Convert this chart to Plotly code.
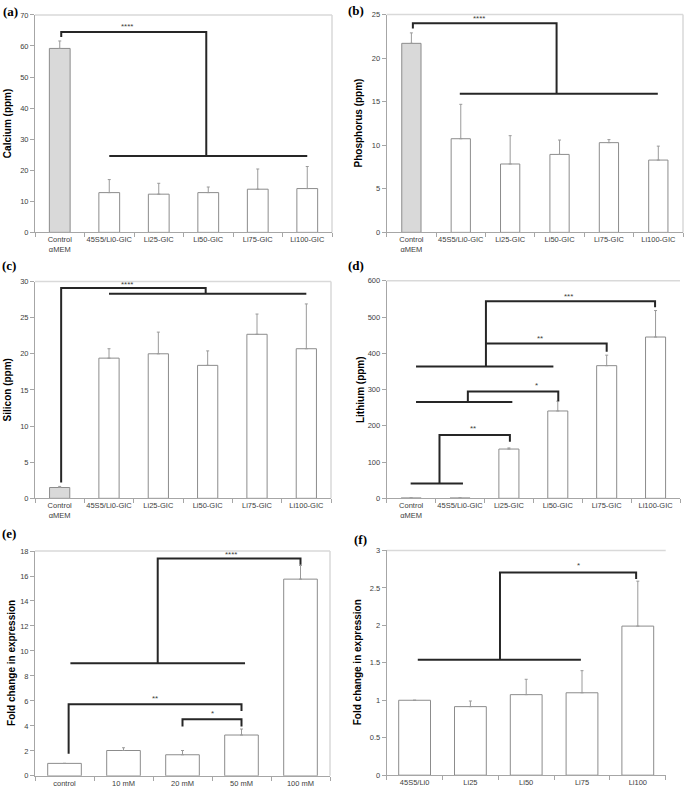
import plotly.graph_objects as go

W, H = 685, 795

# ---------------- data ----------------
cats_ppm = ["Control<br>αMEM", "45S5/Li0-GIC", "Li25-GIC", "Li50-GIC", "Li75-GIC", "Li100-GIC"]

calcium = [59.2, 12.8, 12.3, 12.8, 13.9, 14.1]
calcium_err = [2.4, 4.2, 3.5, 1.8, 6.5, 7.1]

phosphorus = [21.7, 10.75, 7.85, 8.95, 10.3, 8.3]
phosphorus_err = [1.2, 3.95, 3.25, 1.65, 0.35, 1.6]

silicon = [1.5, 19.4, 20.0, 18.4, 22.7, 20.7]
silicon_err = [0.15, 1.3, 3.0, 2.0, 2.8, 6.2]

lithium = [1.0, 1.0, 136, 241, 366, 445]
lithium_err = [0, 0, 3, 27, 29, 73]

cats_mm = ["control", "10 mM", "20 mM", "50 mM", "100 mM"]
fold_mm = [1.0, 2.03, 1.69, 3.27, 15.75]
fold_mm_err = [0, 0.22, 0.34, 0.48, 1.1]

cats_li = ["45S5/Li0", "Li25", "Li50", "Li75", "Li100"]
fold_li = [1.0, 0.915, 1.075, 1.1, 1.99]
fold_li_err = [0, 0.075, 0.205, 0.295, 0.6]

# significance brackets: polylines in (category index, value) + star labels
brk_a = [[(0.03, 62.9), (0.03, 64.5), (2.96, 64.5), (2.96, 24.6)], [(1.0, 24.6), (5.0, 24.6)]]
stars_a = [(1.36, 66.2, "****")]
brk_b = [[(0.03, 23.4), (0.03, 24.0), (2.94, 24.0), (2.94, 15.9)], [(0.98, 15.9), (4.99, 15.9)]]
stars_b = [(1.37, 24.55, "****")]
brk_c = [[(0.03, 2.2), (0.03, 29.1), (2.96, 29.1), (2.96, 28.3)], [(1.0, 28.3), (5.0, 28.3)]]
stars_c = [(1.36, 29.6, "****")]
brk_d = [
    [(-0.01, 41), (1.06, 41)],
    [(0.58, 41), (0.58, 174.5), (2.02, 174.5), (2.02, 156)],
    [(0.10, 266), (2.07, 266)],
    [(1.16, 266), (1.16, 295), (3.01, 295), (3.01, 268)],
    [(0.10, 363.6), (2.91, 363.6)],
    [(1.53, 363.6), (1.53, 543.6), (4.99, 543.6), (4.99, 527)],
    [(1.53, 427), (4.0, 427), (4.0, 404.5)],
]
stars_d = [(1.27, 193, "**"), (2.57, 311, "*"), (2.64, 441, "**"), (3.22, 558, "***")]
brk_e = [
    [(0.10, 9.02), (3.06, 9.02)],
    [(1.58, 9.02), (1.58, 17.4), (4.0, 17.4), (4.0, 16.9)],
    [(0.07, 1.77), (0.07, 5.73), (3.0, 5.73), (3.0, 5.2)],
    [(2.0, 3.96), (2.0, 4.54), (3.0, 4.54), (3.0, 3.96)],
]
stars_e = [(2.82, 17.75, "****"), (1.54, 6.2, "**"), (2.5, 5.0, "*")]
brk_f = [
    [(0.057, 1.54), (2.98, 1.54)],
    [(1.53, 1.54), (1.53, 2.705), (3.97, 2.705), (3.97, 2.62)],
]
stars_f = [(2.93, 2.80, "*")]

panels = [
    dict(label="(a)", title="Calcium (ppm)", cats=cats_ppm, vals=calcium, errs=calcium_err,
         ymax=70, dtick=10, box=(35, 332, 11, 231), bw=0.42, gray=True, brk=brk_a, stars=stars_a,
         lab=(10, 8), tx=7.5, frame="tr"),
    dict(label="(b)", title="Phosphorus (ppm)", cats=cats_ppm, vals=phosphorus, errs=phosphorus_err,
         ymax=25, dtick=5, box=(386.7, 683, 10.7, 231), bw=0.39, gray=True, brk=brk_b, stars=stars_b,
         lab=(356, 7), tx=358, frame="tr"),
    dict(label="(c)", title="Silicon (ppm)", cats=cats_ppm, vals=silicon, errs=silicon_err,
         ymax=30, dtick=5, box=(35, 331, 280.7, 500), bw=0.41, gray=True, brk=brk_c, stars=stars_c,
         lab=(9, 265), tx=7.5, frame="tr"),
    dict(label="(d)", title="Lithium (ppm)", cats=cats_ppm, vals=lithium, errs=lithium_err,
         ymax=600, dtick=100, box=(386.7, 680, 280, 500), bw=0.41, gray=False, brk=brk_d, stars=stars_d,
         lab=(356, 265), tx=360.5, frame="t"),
    dict(label="(e)", title="Fold change in expression", cats=cats_mm, vals=fold_mm, errs=fold_mm_err,
         ymax=18, dtick=2, box=(35, 330, 553.3, 780.7), bw=0.57, gray=False, brk=brk_e, stars=stars_e,
         lab=(9, 536), tx=11.5, frame="tr"),
    dict(label="(f)", title="Fold change in expression", cats=cats_li, vals=fold_li, errs=fold_li_err,
         ymax=3, dtick=0.5, box=(386.7, 665.7, 552.7, 780), bw=0.57, gray=False, brk=brk_f, stars=stars_f,
         lab=(361, 542), tx=357.5, frame="t"),
]

fig = go.Figure()
shapes, annotations = [], []
layout = {}

TICKFONT = dict(family="Liberation Sans, Arial, sans-serif", size=7.5, color="#404040")
AXIS_COL = "#a6a6a6"
FRAME_COL = "#d9d9d9"
BRK_COL = "#262626"

for i, p in enumerate(panels, start=1):
    xa = "x" if i == 1 else f"x{i}"
    ya = "y" if i == 1 else f"y{i}"
    x0, x1, y0, y1 = p["box"]
    n = len(p["cats"])
    fills = [("#d9d9d9" if (p["gray"] and k == 0) else "white") for k in range(n)]
    fig.add_trace(go.Bar(
        x=p["cats"], y=p["vals"], xaxis=xa, yaxis=ya, width=p["bw"],
        marker=dict(color=fills, line=dict(color="#8c8c8c", width=1)),
        error_y=dict(type="data", symmetric=False, array=p["errs"], arrayminus=[0] * n,
                     color="#9a9a9a", thickness=1, width=1.5),
        showlegend=False, hoverinfo="skip",
    ))
    xkey = "xaxis" if i == 1 else f"xaxis{i}"
    ykey = "yaxis" if i == 1 else f"yaxis{i}"
    layout[xkey] = dict(
        domain=[x0 / W, x1 / W], anchor=ya, type="category",
        range=[-0.5, n - 0.5], tickson="boundaries", ticks="outside", ticklen=4,
        tickangle=0, tickcolor=AXIS_COL, showline=True, linecolor=AXIS_COL, linewidth=1,
        showgrid=False, zeroline=False, tickfont=TICKFONT, fixedrange=True,
    )
    layout[ykey] = dict(
        domain=[1 - y1 / H, 1 - y0 / H], anchor=xa,
        range=[0, p["ymax"]], dtick=p["dtick"], tick0=0, ticks="outside", ticklen=4,
        tickcolor=AXIS_COL, showline=True, linecolor=AXIS_COL, linewidth=1,
        showgrid=False, zeroline=False, tickfont=TICKFONT, fixedrange=True,
    )
    # frame (top / right)
    dref_x = f"{xa} domain"
    dref_y = f"{ya} domain"
    shapes.append(dict(type="line", xref=dref_x, yref=dref_y, x0=0, x1=1, y0=1, y1=1,
                       line=dict(color=FRAME_COL, width=1.5), layer="below"))
    if "r" in p["frame"]:
        shapes.append(dict(type="line", xref=dref_x, yref=dref_y, x0=1, x1=1, y0=0, y1=1,
                           line=dict(color=FRAME_COL, width=1.5), layer="below"))
    # brackets
    for poly in p["brk"]:
        path = "M " + " L ".join(f"{px},{py}" for px, py in poly)
        shapes.append(dict(type="path", xref=xa, yref=ya, path=path,
                           line=dict(color=BRK_COL, width=2)))
    for sx, sy, st in p["stars"]:
        annotations.append(dict(x=sx, y=sy, xref=xa, yref=ya, text=st, showarrow=False,
                                font=dict(family="Liberation Sans, Arial, sans-serif", size=8, color="#404040")))
    # y-axis title
    annotations.append(dict(x=p["tx"] / W, y=1 - ((y0 + y1) / 2) / H, xref="paper", yref="paper",
                            text=f"<b>{p['title']}</b>", textangle=-90, showarrow=False,
                            xanchor="center", yanchor="middle",
                            font=dict(family="Liberation Sans, Arial, sans-serif", size=10, color="#000000")))
    # panel label
    lx, ly = p["lab"]
    annotations.append(dict(x=lx / W, y=1 - ly / H, xref="paper", yref="paper",
                            text=f"<b>{p['label']}</b>", showarrow=False, xanchor="center", yanchor="middle",
                            font=dict(family="Liberation Serif, Times New Roman, serif", size=13, color="#000000")))

fig.update_layout(
    width=W, height=H, margin=dict(l=0, r=0, t=0, b=0),
    paper_bgcolor="white", plot_bgcolor="white",
    shapes=shapes, annotations=annotations, bargap=0.5, **layout,
)

fig.write_html("out.html", config={"displayModeBar": False, "staticPlot": True},
               post_script="document.body.style.margin='0';document.body.style.overflow='hidden';")
